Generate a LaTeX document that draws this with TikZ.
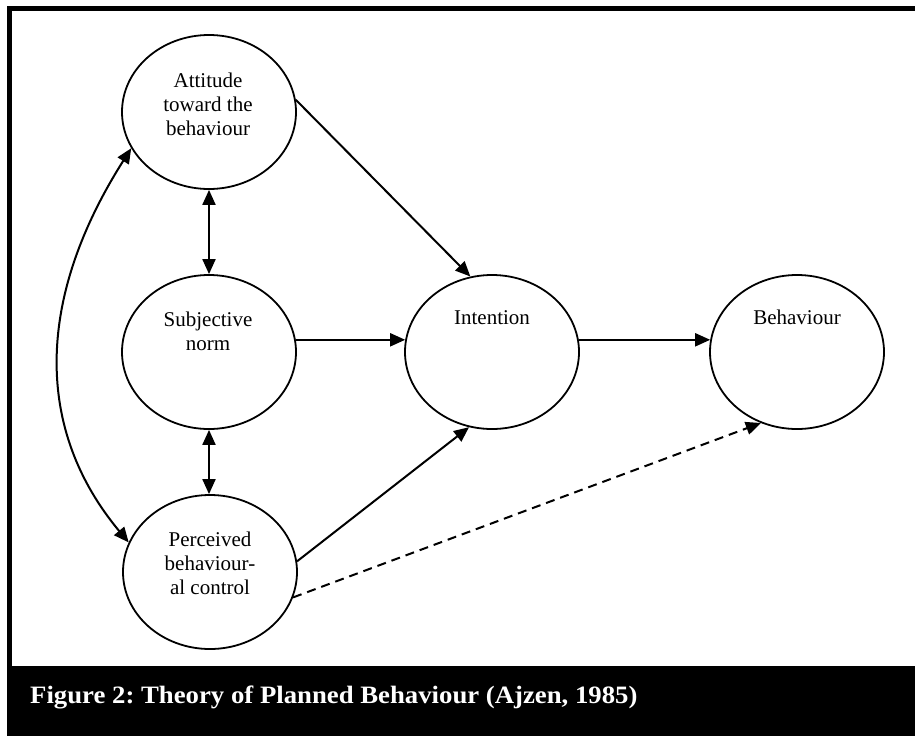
\documentclass[tikz,border=0pt]{standalone}
\usepackage{fontspec}
\setmainfont{Liberation Serif}
\usetikzlibrary{arrows.meta,shapes.geometric}
\begin{document}
\begin{tikzpicture}[x=1pt,y=1pt,
  oval/.style={draw, ellipse, line width=1.8pt, minimum width=174pt, minimum height=154pt, inner sep=0pt},
  lbl/.style={align=center, font=\fontsize{21}{24}\selectfont, inner sep=0pt},
  tipx/.tip={Triangle[length=15pt,width=13pt]},
  conn/.style={line width=2pt, -tipx},
  both/.style={line width=2pt, tipx-tipx},
  frame/.style={fill=black}]
\useasboundingbox (0,0) rectangle (915,-736);
% frame and caption bar
\fill[frame] (7,-5.5) rectangle (915,-10.5);
\fill[frame] (7,-5.5) rectangle (11.5,-736);
\fill[frame] (7,-666) rectangle (915,-736);
% ellipses
\node[oval] (att) at (209,-112) {};
\node[oval] (sub) at (209,-352) {};
\node[oval] (per) at (210,-572) {};
\node[oval] (int) at (492,-352) {};
\node[oval] (beh) at (797,-352) {};
% labels
\node[lbl] (att-t) at (208,-104) {Attitude\\toward the\\behaviour};
\node[lbl] (sub-t) at (208,-331) {Subjective\\norm};
\node[lbl] (per-t) at (210,-563) {Perceived\\behaviour-\\al control};
\node[lbl] (int-t) at (492,-318) {Intention};
\node[lbl] (beh-t) at (797,-317) {Behaviour};
% connectors
\draw[conn] (att.8) -- (int.106);
\draw[both] (att.south) -- (sub.north);
\draw[both] (sub.south) -- (per.north -| sub.south);
\draw[conn] (sub.8) -- (int.172);
\draw[conn] (per.7) -- (int.253);
\draw[conn] (int.8) -- (beh.172);
\draw[conn, dash pattern=on 9pt off 6pt] (per.-17) -- (beh.243);
\draw[both] (att.205) .. controls (35,-300) and (35,-430) .. (per.160);
% caption
\node[anchor=base west, text=white, inner sep=0pt, font=\fontsize{25}{28}\selectfont\bfseries] (cap) at (30,-703) {\frenchspacing\scalebox{1.07}[1]{Figure 2: Theory of Planned Behaviour (Ajzen, 1985)}};
\end{tikzpicture}
\end{document}
